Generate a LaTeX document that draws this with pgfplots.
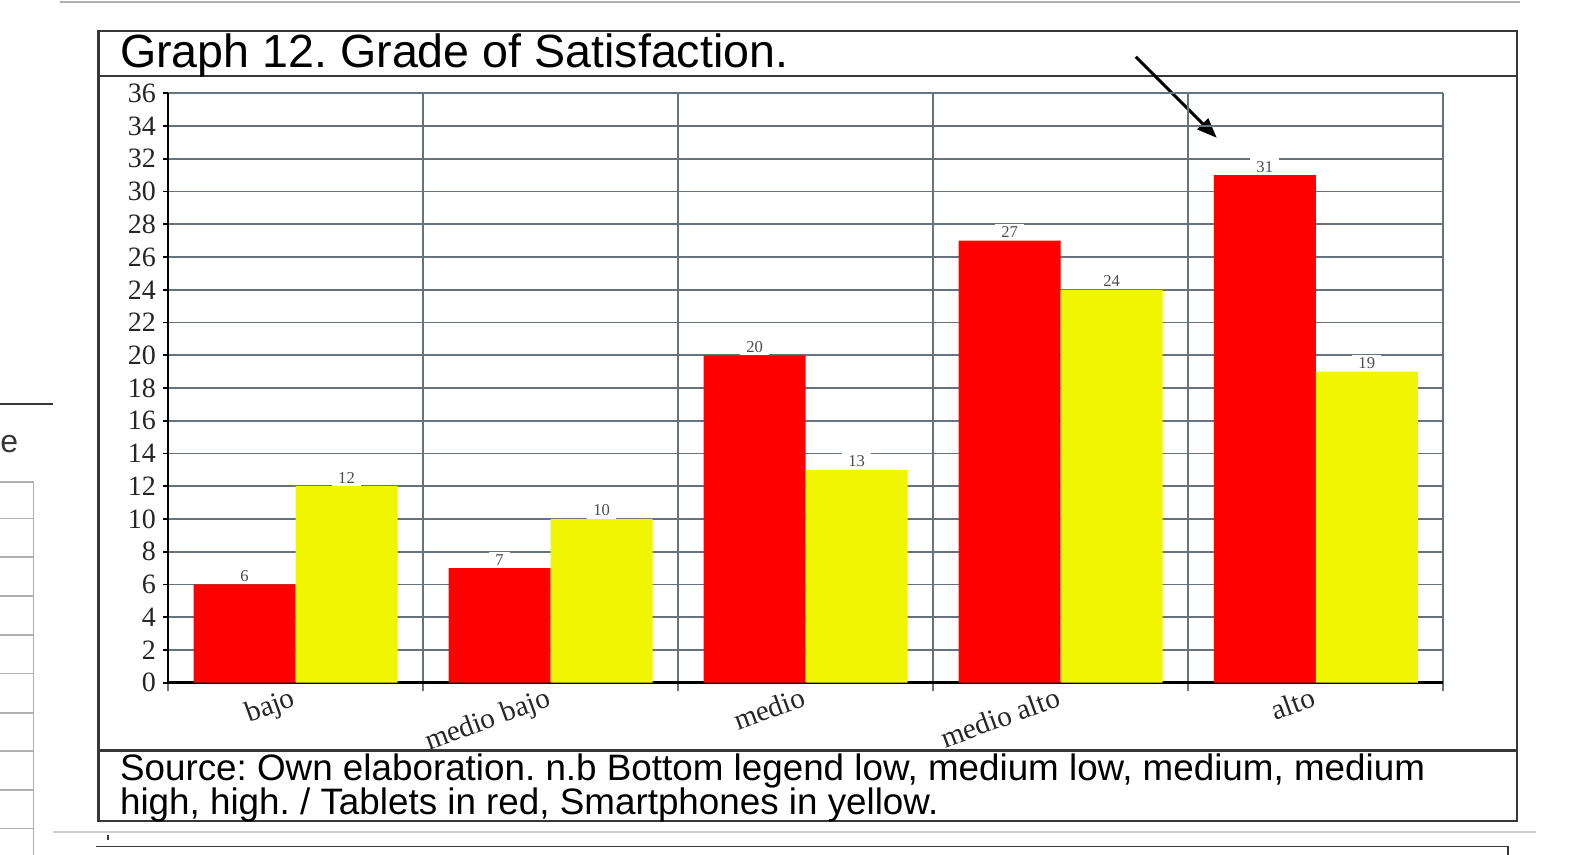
\documentclass[border=0pt]{standalone}
\usepackage{pgfplots}
\pgfplotsset{compat=1.18}
\usepackage{fontspec}
\setmainfont{Liberation Sans}
\newfontfamily\serif{Liberation Serif}
\usetikzlibrary{arrows.meta}
\frenchspacing

\definecolor{barred}{RGB}{255,0,0}
\definecolor{baryellow}{RGB}{240,245,0}
\definecolor{gridc}{RGB}{100,115,125}
\definecolor{framec}{RGB}{55,55,55}
\definecolor{pagegray}{RGB}{175,175,175}

\pgfplotstableread{
x tablets smartphones
0 6 12
1 7 10
2 20 13
3 27 24
4 31 19
}\satisfaction

\begin{document}
\begin{tikzpicture}
\useasboundingbox (0,0) rectangle (795pt,-427.5pt);
\begin{scope}[x=0.5pt,y=-0.5pt]
% surrounding page fragments
\draw[pagegray, line width=0.8pt] (60,2) -- (1520,2);
\draw[framec, line width=0.8pt] (0,404) -- (53,404);
\node[anchor=base west, inner sep=0, font=\fontsize{16}{16}\selectfont, text=framec] at (0,452) {e};
\draw[pagegray, line width=0.8pt] (33.5,481) -- (33.5,860);
\foreach \yy in {481.7,518.3,556.7,596,635,673.3,712.7,751,790,828.3}
  \draw[pagegray, line width=0.8pt] (0,\yy) -- (33.5,\yy);
\draw[pagegray!60, line width=1pt] (53,831.5) -- (1536,831.5);
\draw[framec, line width=0.8pt] (96,846.5) -- (1508,846.5) -- (1508,860);
\draw[framec, line width=0.8pt] (108,835) -- (108,840);
% chart frame
\draw[framec, line width=1.1pt] (98.4,31.4) rectangle (1517,821.3);
\draw[framec, line width=1.1pt] (98.4,76) -- (1517,76);
\draw[framec, line width=1.1pt] (98.4,750.4) -- (1517,750.4);
\node[anchor=base west, inner sep=0, font=\fontsize{23.3}{26}\selectfont] at (119.7,68) {Graph 12. Grade of Satisfaction.};
\node[anchor=base west, inner sep=0, font=\fontsize{18.4}{22}\selectfont] at (119.7,780) {Source: Own elaboration. n.b Bottom legend low, medium low, medium, medium};
\node[anchor=base west, inner sep=0, font=\fontsize{18.4}{22}\selectfont] at (119.7,814) {high, high. / Tablets in red, Smartphones in yellow.};
\draw[black, line width=1.5pt, -{Triangle[length=10pt,width=7.5pt]}] (1135.7,56.8) -- (1216.8,137.9);
\end{scope}

\begin{axis}[
  at={(84pt,-341.35pt)}, anchor=south west,
  scale only axis, width=637.65pt, height=294.7pt,
  ybar=0pt, bar width=0.4,
  xmin=-0.5, xmax=4.5, ymin=0, ymax=36,
  ytick={0,2,...,36},
  xtick={0,1,2,3,4},
  xticklabels={bajo, medio bajo, medio, medio alto, alto},
  minor xtick={-0.5,0.5,1.5,2.5,3.5,4.5},
  xminorgrids, ymajorgrids,
  major grid style={gridc, line width=0.9pt},
  minor grid style={gridc, line width=0.9pt},
  axis x line*=bottom, axis y line*=left,
  axis line style={black, line width=1.3pt},
  tick align=outside,
  major tick length=2.5pt, minor tick length=4pt,
  major x tick style={draw=none},
  minor x tick style={gridc, line width=0.9pt},
  ytick style={black, line width=0.9pt},
  /pgf/number format/assume math mode=true,
  yticklabel style={font=\serif\fontsize{14}{14}\selectfont, text=black!85},
  xticklabel style={font=\serif\fontsize{14.6}{14.6}\selectfont, text=black!85, rotate=20, anchor=north east, xshift=1pt, yshift=5pt},
  nodes near coords,
  nodes near coords style={font=\serif\fontsize{8.3}{8.3}\selectfont, text=black!70, fill=white, inner xsep=3pt, inner ysep=1.3pt, anchor=south},
  clip=false,
]
\addplot[fill=barred, draw=none] table[x=x, y=tablets] {\satisfaction};
\addplot[fill=baryellow, draw=none] table[x=x, y=smartphones] {\satisfaction};
\end{axis}
\end{tikzpicture}
\end{document}
